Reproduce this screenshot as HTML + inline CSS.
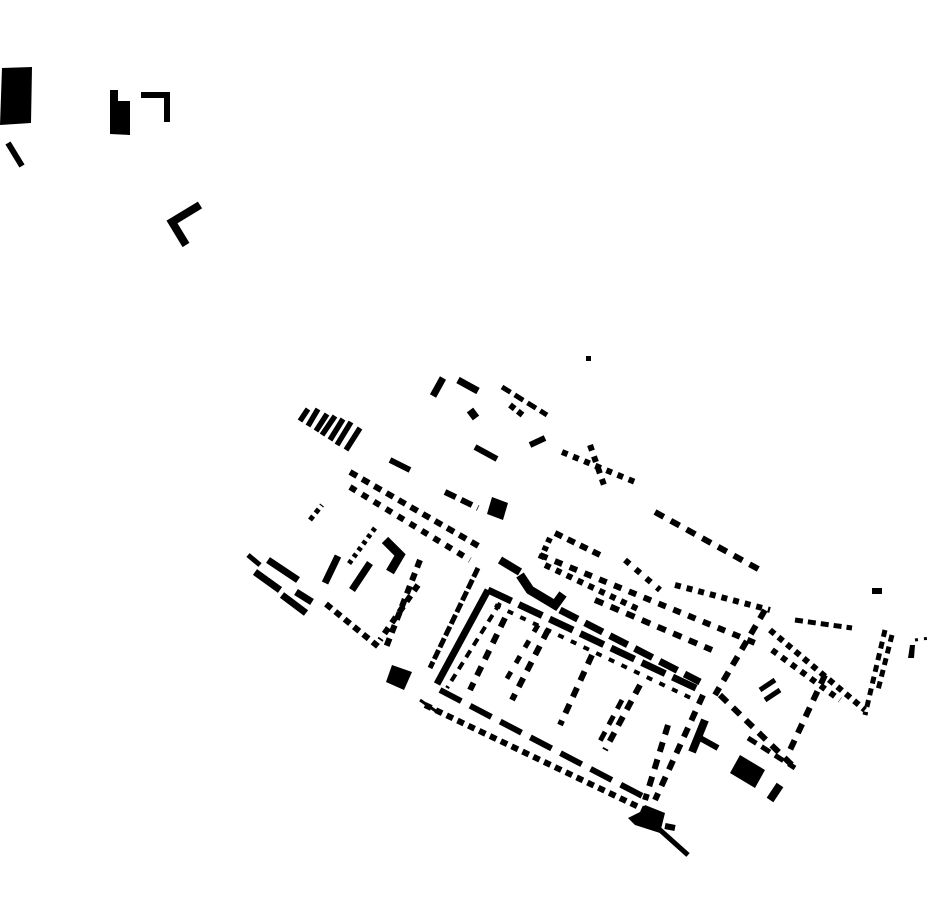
<!DOCTYPE html><html><head><style>html,body{margin:0;background:#fff}svg{display:block}</style></head><body>
<svg width="930" height="924" viewBox="0 0 930 924" xmlns="http://www.w3.org/2000/svg" fill="#000" stroke="#000">
<g stroke="none">
<polygon points="2,68 32,67 31,123 0,125"/>
<polygon points="110,90 118,90 118,101 130,101 130,135 110,134"/>
<polygon points="392,665 412,672 404,690 386,682"/>
<polygon points="492,497 508,503 503,520 487,514"/>
<polygon points="740,755 765,770 755,788 730,773"/>
<polygon points="645,805 665,813 660,833 635,825 628,818 640,812"/>
<polygon points="910,645 915,645 914,658 908,658"/>
<rect x="872" y="588" width="10" height="6"/>
<rect x="586" y="356" width="5" height="5"/>
</g>
<g fill="none" stroke-linecap="butt">
<path d="M8,143 L22,166" stroke-width="6"/>
<path d="M141,95 L167,95 L167,122" stroke-width="6"/>
<path d="M200,205 L172,222 L186,245" stroke-width="8"/>
<path d="M308,409 L300,421 M318,409 L308,426 M327,414 L316,431 M335,416 L322,435 M343,419 L330,440 M351,422 L337,445 M360,428 L346,450" stroke-width="5.5"/>
<path d="M443,378 L433,396" stroke-width="7"/>
<path d="M458,380 L478,391" stroke-width="7"/>
<path d="M502,387 L547,415" stroke-width="5" stroke-dasharray="10 5"/>
<path d="M510,405 L525,417" stroke-width="6" stroke-dasharray="6 4"/>
<path d="M470,410 L476,418" stroke-width="8"/>
<path d="M390,460 L410,470" stroke-width="6"/>
<path d="M475,447 L497,459" stroke-width="6"/>
<path d="M445,492 L478,508" stroke-width="6" stroke-dasharray="12 6"/>
<path d="M562,452 L635,482" stroke-width="6" stroke-dasharray="6 6"/>
<path d="M590,445 L605,488" stroke-width="6" stroke-dasharray="6 6"/>
<path d="M530,445 L545,438" stroke-width="6"/>
<path d="M655,512 L760,570" stroke-width="6" stroke-dasharray="10 8"/>
<path d="M350,472 L482,548" stroke-width="6" stroke-dasharray="8 6"/>
<path d="M350,487 L470,560" stroke-width="6" stroke-dasharray="7 7"/>
<path d="M310,520 L322,505" stroke-width="5" stroke-dasharray="5 4"/>
<path d="M248,555 L260,565" stroke-width="5"/>
<path d="M268,560 L298,580" stroke-width="7"/>
<path d="M255,572 L280,590" stroke-width="7"/>
<path d="M296,592 L312,602" stroke-width="7"/>
<path d="M282,595 L306,613" stroke-width="7"/>
<path d="M326,604 L380,648" stroke-width="6" stroke-dasharray="7 5"/>
<path d="M375,528 L348,565" stroke-width="5" stroke-dasharray="4 4"/>
<path d="M338,556 L325,583" stroke-width="7"/>
<path d="M370,563 L352,590" stroke-width="7"/>
<path d="M385,540 L400,555 L390,572" stroke-width="9"/>
<path d="M420,560 L385,650" stroke-width="6" stroke-dasharray="8 6"/>
<path d="M418,585 L380,640" stroke-width="6" stroke-dasharray="7 6"/>
<path d="M478,568 L430,668" stroke-width="5" stroke-dasharray="10 3"/>
<path d="M488,590 L437,684" stroke-width="7"/>
<path d="M488,590 L700,690" stroke-width="7" stroke-dasharray="26 8"/>
<path d="M495,605 L695,700" stroke-width="4" stroke-dasharray="6 8"/>
<path d="M500,603 L447,688" stroke-width="4" stroke-dasharray="8 6"/>
<path d="M505,618 L470,690" stroke-width="6" stroke-dasharray="10 8"/>
<path d="M548,630 L512,700" stroke-width="6" stroke-dasharray="10 8"/>
<path d="M538,625 L505,682" stroke-width="5" stroke-dasharray="8 10"/>
<path d="M592,655 L560,725" stroke-width="6" stroke-dasharray="10 8"/>
<path d="M640,685 L605,750" stroke-width="6" stroke-dasharray="10 8"/>
<path d="M622,700 L598,745" stroke-width="5" stroke-dasharray="10 8"/>
<path d="M440,690 L650,800" stroke-width="6" stroke-dasharray="24 10"/>
<path d="M425,705 L645,810" stroke-width="6" stroke-dasharray="7 5"/>
<path d="M420,700 L440,714" stroke-width="3"/>
<path d="M703,695 L655,800" stroke-width="6" stroke-dasharray="10 8"/>
<path d="M668,725 L645,800" stroke-width="6" stroke-dasharray="10 8"/>
<path d="M500,560 L520,572" stroke-width="8"/>
<path d="M520,575 L530,590 L555,605 L563,594" stroke-width="9"/>
<path d="M560,610 L700,682" stroke-width="7" stroke-dasharray="20 8"/>
<path d="M540,555 L760,645" stroke-width="6" stroke-dasharray="8 8"/>
<path d="M555,533 L600,555" stroke-width="6" stroke-dasharray="8 6"/>
<path d="M550,538 L540,560" stroke-width="6" stroke-dasharray="5 4"/>
<path d="M545,565 L640,610" stroke-width="6" stroke-dasharray="6 6"/>
<path d="M595,600 L712,650" stroke-width="6" stroke-dasharray="9 8"/>
<path d="M625,560 L660,590" stroke-width="6" stroke-dasharray="6 8"/>
<path d="M675,585 L770,610" stroke-width="6" stroke-dasharray="6 6"/>
<path d="M765,610 L715,695" stroke-width="6" stroke-dasharray="10 8"/>
<path d="M795,620 L852,628" stroke-width="5" stroke-dasharray="8 5"/>
<path d="M770,630 L865,710" stroke-width="6" stroke-dasharray="6 5"/>
<path d="M772,650 L840,700" stroke-width="6" stroke-dasharray="6 6"/>
<path d="M885,630 L865,715" stroke-width="5" stroke-dasharray="7 5"/>
<path d="M892,635 L878,690" stroke-width="5" stroke-dasharray="7 5"/>
<path d="M825,675 L790,750" stroke-width="6" stroke-dasharray="10 8"/>
<path d="M720,695 L795,768" stroke-width="6" stroke-dasharray="10 8"/>
<path d="M760,690 L775,680 M765,700 L780,690" stroke-width="5"/>
<path d="M705,720 L692,752" stroke-width="8"/>
<path d="M700,738 L718,748" stroke-width="6"/>
<path d="M748,738 L795,768" stroke-width="5" stroke-dasharray="10 6"/>
<path d="M780,785 L770,800" stroke-width="8"/>
<path d="M640,812 L688,855" stroke-width="5"/>
<path d="M665,826 L675,828" stroke-width="6"/>
<path d="M915,640 L930,638" stroke-width="3" stroke-dasharray="3 6"/>
</g>
</svg>
</body></html>
